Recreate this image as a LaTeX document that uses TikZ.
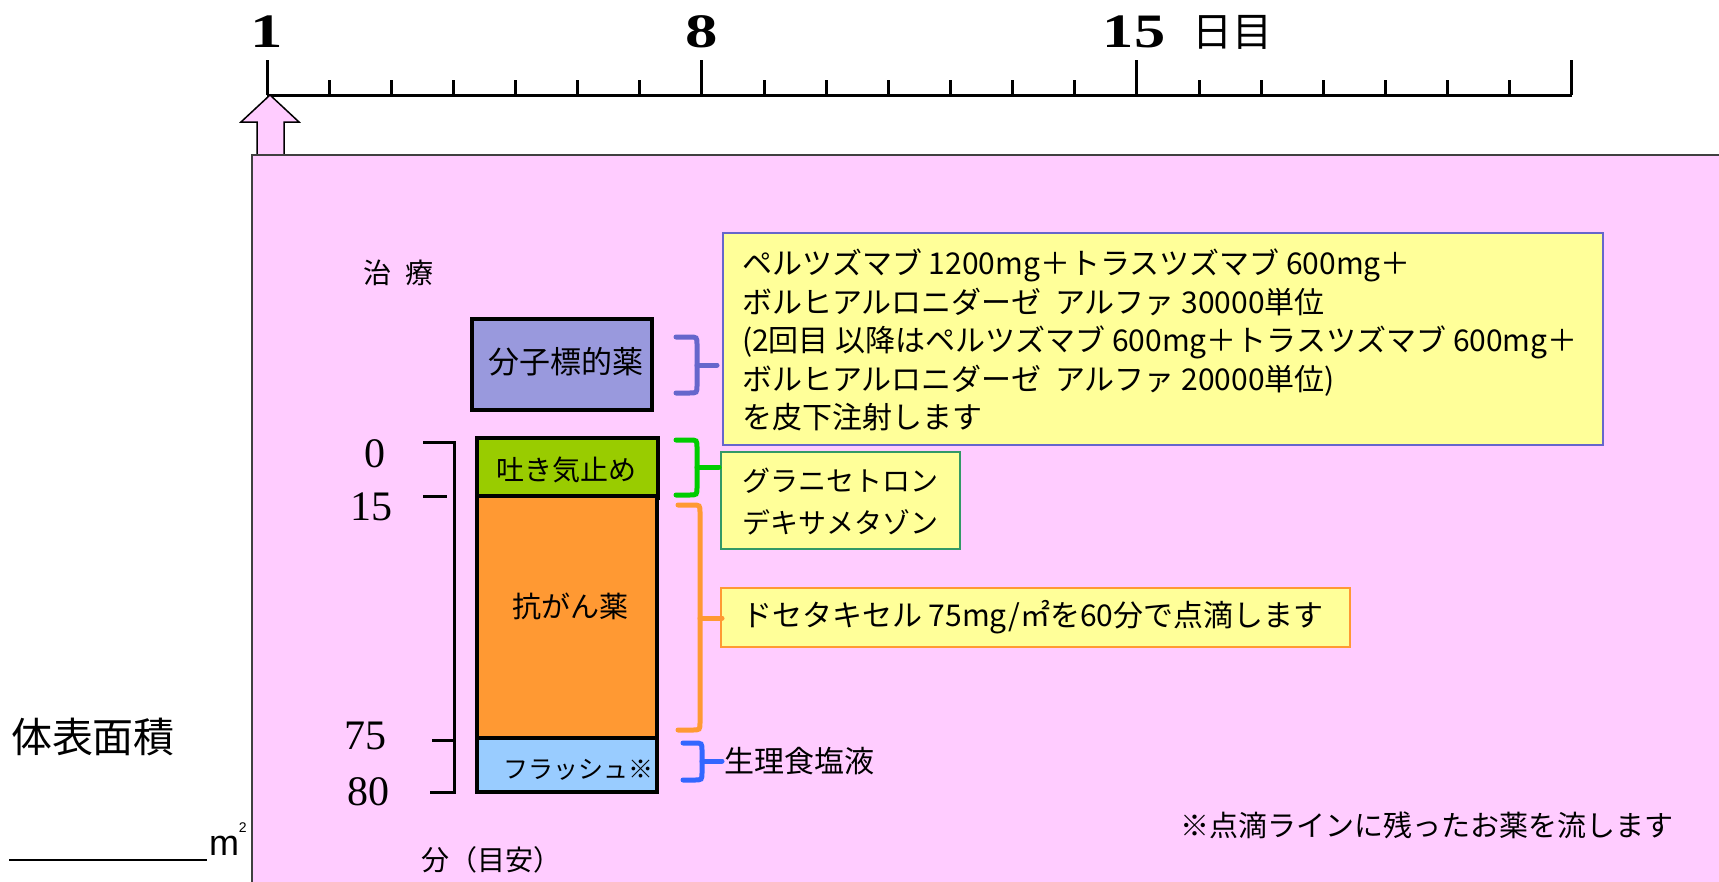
\documentclass[tikz,border=0pt]{standalone}
\usepackage{fontspec}
\setmainfont{Liberation Serif}
\newfontfamily\jp{Noto Sans CJK JP}
\newfontfamily\arialf{Liberation Sans}
\definecolor{pinkbg}{HTML}{FFCCFF}
\definecolor{lav}{HTML}{9999DD}
\definecolor{lime}{HTML}{99CC00}
\definecolor{orng}{HTML}{FF9933}
\definecolor{lblue}{HTML}{99CCFF}
\definecolor{yel}{HTML}{FFFF99}
\definecolor{purp}{HTML}{6666CC}
\definecolor{brgreen}{HTML}{00CC00}
\definecolor{tealg}{HTML}{339966}
\definecolor{brblue}{HTML}{3366FF}
\newcommand\mybrace[7]{%
 \draw[bracesty,#1] (#2,#5) -- (#3-8,#5) .. controls (#3,#5) .. (#3,#5+8) -- (#3,#7-8) .. controls (#3,#7) .. (#3-8,#7) -- (#2,#7);
 \draw[bracesty,#1] (#3,#6) -- (#4,#6);}
\begin{document}
\begin{tikzpicture}[x=1pt,y=-1pt,
  lbl/.style={inner sep=0pt, outer sep=0pt, text=black},
  j/.style={lbl, font={\jp\fontsize{#1}{#1}\selectfont}},
  num/.style={lbl, font={\fontsize{42}{42}\selectfont}},
  daynum/.style={lbl, font={\bfseries\fontsize{48}{48}\selectfont}},
  drugbox/.style={draw=black, line width=3.3pt, inner sep=0pt, outer sep=0pt, anchor=north west},
  tbox/.style={fill=yel, line width=2pt, inner sep=0pt, outer sep=0pt, anchor=north west},
  bracesty/.style={line width=5pt, line cap=round},
  brk/.style={line width=3pt},
  tk/.style={line width=3pt}]
\useasboundingbox (0,0) rectangle (1719,881);
\clip (0,0) rectangle (1719,881);
\fill[white] (0,0) rectangle (1719,881);

% timeline
\draw[tk] (267,95) -- (1572,95);
\foreach \d in {1,...,20} {
  \pgfmathsetmacro\xx{267+\d*62.14}
  \draw[tk] (\xx,95) -- (\xx,80);
}
\foreach \d in {0,7,14,21} {
  \pgfmathsetmacro\xx{267+\d*62.14}
  \draw[tk] (\xx,95) -- (\xx,60);
}
\node[daynum] (d1) at (267,32) {\scalebox{1.35}[1]{1}};
\node[daynum] (d8) at (702,32) {\scalebox{1.35}[1]{8}};
\node[daynum] (d15) at (1134,32) {\scalebox{1.3}[1]{15}};
\node[j=40] (dlab) at (1232,32) {日目};

% arrow and pink area
\draw[fill=pinkbg, line width=1.5pt] (257,156) -- (257,122) -- (241,122) -- (270,95) -- (299,122) -- (284,122) -- (284,156);
\draw[fill=pinkbg, draw=black!75, line width=2pt] (252,155) rectangle (1760,920);

% left labels
\node[j=41, anchor=west] (bsa) at (11,737) {体表面積};
\draw[line width=2pt] (9,860) -- (207,860);
\node[lbl, anchor=base west, font={\arialf\fontsize{36}{36}\selectfont}] (m2) at (209,855) {m\raisebox{23pt}{\fontsize{14}{14}\selectfont 2}};

% treatment label
\node[j=28] (tr) at (398,273) {治\hspace{14pt}療};

% drug boxes
\node[drugbox, fill=lav, minimum width=180pt, minimum height=91pt] (mab) at (472,319) {};
\node[drugbox, fill=lime, minimum width=181pt, minimum height=60pt] (ae) at (477,438) {};
\node[drugbox, fill=orng, minimum width=180pt, minimum height=242pt] (acd) at (477,496) {};
\node[drugbox, fill=lblue, minimum width=180pt, minimum height=54pt] (fl) at (477,738) {};
\node[j=31] (mabt) at (566,362) {分子標的薬};
\node[j=28] (aet) at (566,470) {吐き気止め};
\node[j=29] (acdt) at (570,606) {抗がん薬};
\node[j=25] (flt) at (578,770) {フラッシュ※};

% time scale
\node[num] (n0) at (375,454) {0};
\node[num] (n15) at (371,507) {15};
\node[num] (n75) at (365,736) {75};
\node[num] (n80) at (368,792) {80};
\draw[brk] (423,442) -- (454,442) -- (454,792) -- (430,792);
\draw[brk] (423,496) -- (447,496);
\draw[brk] (432,740) -- (454,740);
\node[j=28] (unit) at (491,860) {分（目安）};

% text boxes
\node[tbox, draw=purp, minimum width=880pt, minimum height=212pt] (t1) at (723,233) {};
\node[tbox, draw=tealg, minimum width=239pt, minimum height=97pt] (t2) at (721,452) {};
\node[tbox, draw=orng, minimum width=629pt, minimum height=59pt] (t3) at (721,588) {};
\node[lbl, anchor=west, align=left, font={\jp\fontsize{30}{38.5}\selectfont}] (t1t) at (742,340) {ペルツズマブ 1200mg＋トラスツズマブ 600mg＋\\ボルヒアルロニダーゼ\ \ アルファ 30000単位\\(2回目 以降はペルツズマブ 600mg＋トラスツズマブ 600mg＋\\ボルヒアルロニダーゼ\ \ アルファ 20000単位)\\を皮下注射します};
\node[lbl, anchor=west, align=left, font={\jp\fontsize{28}{42}\selectfont}] (t2t) at (742,502) {グラニセトロン\\デキサメタゾン};
\node[lbl, anchor=west, font={\jp\fontsize{30}{30}\selectfont}] (t3t) at (742,617) {ドセタキセル 75mg/㎡を60分で点滴します};

% braces
\mybrace{purp}{676}{697}{717}{337}{365}{393}
\mybrace{brgreen}{676}{697}{719}{440}{467}{495}
\mybrace{orng}{678}{700}{722}{505}{618}{730}
\mybrace{brblue}{683}{702}{722}{743}{761}{780}

\node[j=30, anchor=west] (salt) at (724,761) {生理食塩液};
\node[j=29] (note) at (1427,825) {※点滴ラインに残ったお薬を流します};
\end{tikzpicture}
\end{document}
